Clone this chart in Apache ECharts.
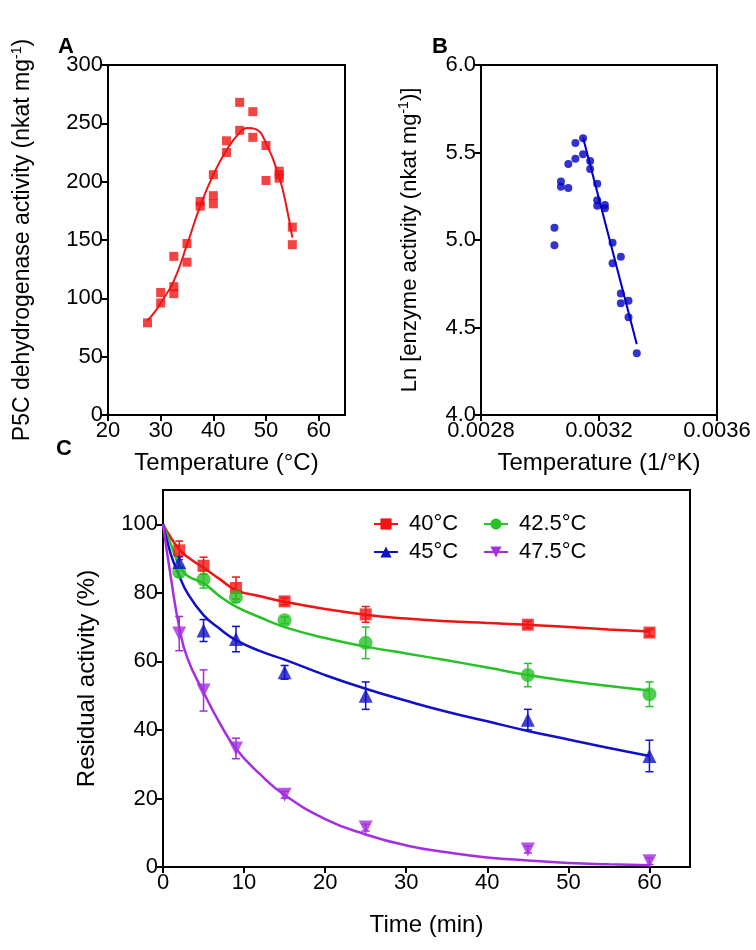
<!DOCTYPE html>
<html><head><meta charset="utf-8">
<script src="https://cdn.jsdelivr.net/npm/echarts@6/dist/echarts.min.js"></script>
<style>html,body{margin:0;padding:0;background:#fff}#c{width:756px;height:950px}</style>
</head><body><div id="c"></div>
<script>
// Panel A: P5C dehydrogenase activity vs temperature
const A_temp = [27.5,30,30,32.5,32.5,32.5,35,35,37.5,37.5,40,40,40,42.5,42.5,45,45,47.5,47.5,50,50,52.5,52.5,52.5,55,55];
const A_act  = [79,105,96,110,104,136,147,131,183,179,206,188,181,225,235,268,244,260,238,231,201,209,203,206,161,146];
const A_fitT = [27.5,29,30,32.5,35,37.5,40,42.5,45,46.5,48,50,52.5,54,55];
const A_fitV = [81,89,96,115,146,179,206,227,242,246,245,233,204,176,152];
const A_xTicks = [20,30,40,50,60];
const A_yTicks = [0,50,100,150,200,250,300];
// Panel B: Arrhenius plot
const B_invT = [0.003049,0.003049,0.003071,0.003071,0.003096,0.003096,0.00312,0.00312,0.003146,0.003146,0.00317,0.00317,0.003194,0.003194,0.003194,0.00322,0.00322,0.003246,0.003246,0.003274,0.003274,0.003274,0.0033,0.0033,0.003328];
const B_ln   = [5.07,4.97,5.335,5.305,5.434,5.297,5.554,5.465,5.581,5.49,5.451,5.406,5.322,5.227,5.196,5.2,5.181,4.985,4.867,4.905,4.695,4.638,4.653,4.558,4.353];
const B_lineX = [0.003146,0.003328];
const B_lineY = [5.585,4.405];
const B_xTicks = [0.0028,0.0032,0.0036];
const B_yTicks = [4.0,4.5,5.0,5.5,6.0];
// Panel C: residual activity vs time
const C_time = [2,5,9,15,25,45,60];
const C_40   = [92.4,87.9,81.4,77.5,73.7,70.7,68.4];
const C_40e  = [2.7,2.5,3.2,1,2.3,1,1];
const C_425  = [86.1,83.9,78.8,72,65.4,56,50.4];
const C_425e = [1.5,2.5,1.5,1,4.6,3.4,3.6];
const C_45   = [89,69,66.5,56.8,50,43,32.4];
const C_45e  = [1.5,3.2,3.7,2,4,3,4.6];
const C_475  = [68.1,51.5,34.6,21.1,11.5,5.1,1.7];
const C_475e = [5,6,3,1,1,1,1];
const C_fitT = [0,1,2,3,5,7,9,12,15,20,25,30,35,40,45,50,55,60];
const C_fit40  = [100,96,92.7,90.5,87.3,84,80.8,79,77.4,75.3,73.6,72.5,71.7,71.2,70.7,70,69.3,68.7];
const C_fit425 = [100,94,88,85,82.8,79,76,72.8,70,66.8,64.3,62.3,60.3,58.2,56,54.3,52.8,51.5];
const C_fit45  = [100,91,85,80,73.5,69.5,66.2,63,60.5,56,52,48.5,45.3,42.5,39.7,37.2,34.7,32.4];
const C_fit475 = [100,84,70,61,51,42,34.5,27,21,14,9.5,6.3,4.3,2.8,1.9,1.2,0.8,0.5];
const C_names = ['40°C','42.5°C','45°C','47.5°C'];
const C_xTicks = [0,10,20,30,40,50,60];
const C_yTicks = [0,20,40,60,80,100];

const FONT = 'Liberation Sans, Arial, sans-serif';
const RED='#f01414', GREEN='#26c226', BLUE='#1010c8', PURPLE='#a52ee0', BBLUE='#0000c4';
const zip = (a,b)=>a.map((v,i)=>[v,b[i]]);
function ax(o, ticks, fmt){
  const base = {
    axisLine:{show:true,onZero:false,lineStyle:{color:'#000',width:2}},
    axisTick:{show:true,length:6,customValues:ticks,lineStyle:{color:'#000',width:2}},
    splitLine:{show:false},
    axisLabel:{color:'#000',fontSize:22,fontFamily:FONT,margin:5,customValues:ticks},
    nameLocation:'middle',
    nameTextStyle:{color:'#000',fontSize:24,fontFamily:FONT}
  };
  if (fmt) base.axisLabel.formatter = fmt;
  return Object.assign(base, o);
}
function supName(pre, post, fs){
  return {
    name:'{t|'+pre+'}{s|-1}{t|'+post+'}',
    nameTextStyle:{color:'#000',fontFamily:FONT,rich:{
      t:{fontSize:fs,fontFamily:FONT,color:'#000',lineHeight:26},
      s:{fontSize:14,fontFamily:FONT,color:'#000',verticalAlign:'top',lineHeight:26,padding:[0,0,9,0]}
    }}
  };
}
function errSeries(name, xs, ys, es, color, gi){
  return {
    type:'custom', name:name, xAxisIndex:gi, yAxisIndex:gi, z:1, silent:true,
    data: xs.map((x,i)=>[x, ys[i], es[i]]),
    renderItem:function(params, api){
      const x=api.value(0), y=api.value(1), e=api.value(2);
      const p1=api.coord([x,y+e]), p2=api.coord([x,y-e]);
      const w=4;
      const st={stroke:color,lineWidth:1.5};
      return {type:'group',children:[
        {type:'line',shape:{x1:p1[0],y1:p1[1],x2:p2[0],y2:p2[1]},style:st},
        {type:'line',shape:{x1:p1[0]-w,y1:p1[1],x2:p1[0]+w,y2:p1[1]},style:st},
        {type:'line',shape:{x1:p2[0]-w,y1:p2[1],x2:p2[0]+w,y2:p2[1]},style:st}
      ]};
    }
  };
}
const chart = echarts.init(document.getElementById('c'), null, {renderer:'canvas'});
const gridStyle = {show:true, borderColor:'#000', borderWidth:2, backgroundColor:'#fff'};
const legendText = {fontSize:22,fontFamily:FONT,color:'#000',padding:[0,0,0,6]};
const option = {
  animation:false,
  backgroundColor:'#fff',
  textStyle:{fontFamily:FONT},
  grid:[
    Object.assign({left:108, top:65, width:237, height:350}, gridStyle),
    Object.assign({left:481, top:65, width:236, height:350}, gridStyle),
    Object.assign({left:163, top:490, width:527, height:377}, gridStyle)
  ],
  xAxis:[
    ax({gridIndex:0, type:'value', min:20, max:65, name:'Temperature (°C)', nameGap:36}, A_xTicks),
    ax({gridIndex:1, type:'value', min:0.0028, max:0.0036, name:'Temperature (1/°K)', nameGap:36}, B_xTicks, v=>v.toFixed(4)),
    ax({gridIndex:2, type:'value', min:0, max:65, name:'Time (min)', nameGap:46}, C_xTicks)
  ],
  yAxis:[
    Object.assign(ax({gridIndex:0, type:'value', min:0, max:300, nameGap:72}, A_yTicks),
      supName('P5C dehydrogenase activity (nkat mg',')',23)),
    Object.assign(ax({gridIndex:1, type:'value', min:4, max:6, nameGap:58}, B_yTicks, v=>v.toFixed(1)),
      supName('Ln [enzyme activity (nkat mg',')]',22)),
    ax({gridIndex:2, type:'value', min:0, max:110, name:'Residual activity (%)', nameGap:64}, C_yTicks)
  ],
  legend:[
    {orient:'vertical', left:368, top:508, itemGap:6, itemWidth:24, itemHeight:14,
     textStyle:legendText, data:['40°C','45°C'], selectedMode:false},
    {orient:'vertical', left:478, top:508, itemGap:6, itemWidth:24, itemHeight:14,
     textStyle:legendText, data:['42.5°C','47.5°C'], selectedMode:false}
  ],
  graphic:[
    {type:'text', left:58, top:36, style:{text:'A', fontSize:22, fontWeight:'bold', fontFamily:FONT, fill:'#000'}},
    {type:'text', left:432, top:36, style:{text:'B', fontSize:22, fontWeight:'bold', fontFamily:FONT, fill:'#000'}},
    {type:'text', left:56, top:438, style:{text:'C', fontSize:22, fontWeight:'bold', fontFamily:FONT, fill:'#000'}}
  ],
  series:[
    {type:'line', xAxisIndex:0, yAxisIndex:0, data:zip(A_fitT,A_fitV), smooth:true, showSymbol:false, lineStyle:{color:RED,width:2}, silent:true},
    {type:'scatter', xAxisIndex:0, yAxisIndex:0, data:zip(A_temp,A_act), symbol:'rect', symbolSize:9, itemStyle:{color:RED}},
    {type:'line', xAxisIndex:1, yAxisIndex:1, data:zip(B_lineX,B_lineY), showSymbol:false, lineStyle:{color:BBLUE,width:2}, silent:true},
    {type:'scatter', xAxisIndex:1, yAxisIndex:1, data:zip(B_invT,B_ln), symbol:'circle', symbolSize:8, itemStyle:{color:BBLUE}},
    errSeries('e40', C_time, C_40, C_40e, RED, 2),
    errSeries('e425', C_time, C_425, C_425e, GREEN, 2),
    errSeries('e45', C_time, C_45, C_45e, BLUE, 2),
    errSeries('e475', C_time, C_475, C_475e, PURPLE, 2),
    {type:'line', name:C_names[0], xAxisIndex:2, yAxisIndex:2, data:zip(C_fitT,C_fit40), smooth:true, showSymbol:false, symbol:'rect', symbolSize:12, itemStyle:{color:RED}, lineStyle:{color:RED,width:2.5}, silent:true},
    {type:'line', name:C_names[1], xAxisIndex:2, yAxisIndex:2, data:zip(C_fitT,C_fit425), smooth:true, showSymbol:false, symbol:'circle', symbolSize:13, itemStyle:{color:GREEN}, lineStyle:{color:GREEN,width:2.5}, silent:true},
    {type:'line', name:C_names[2], xAxisIndex:2, yAxisIndex:2, data:zip(C_fitT,C_fit45), smooth:true, showSymbol:false, symbol:'triangle', symbolSize:13, itemStyle:{color:BLUE}, lineStyle:{color:BLUE,width:2.5}, silent:true},
    {type:'line', name:C_names[3], xAxisIndex:2, yAxisIndex:2, data:zip(C_fitT,C_fit475), smooth:true, showSymbol:false, symbol:'path://M0,0 L10,0 L5,9 Z', symbolSize:13, itemStyle:{color:PURPLE}, lineStyle:{color:PURPLE,width:2.5}, silent:true},
    {type:'scatter', xAxisIndex:2, yAxisIndex:2, data:zip(C_time,C_40), symbol:'rect', symbolSize:12, itemStyle:{color:RED}, z:5},
    {type:'scatter', xAxisIndex:2, yAxisIndex:2, data:zip(C_time,C_425), symbol:'circle', symbolSize:14, itemStyle:{color:GREEN}, z:5},
    {type:'scatter', xAxisIndex:2, yAxisIndex:2, data:zip(C_time,C_45), symbol:'triangle', symbolSize:14, itemStyle:{color:BLUE}, z:5},
    {type:'scatter', xAxisIndex:2, yAxisIndex:2, data:zip(C_time,C_475), symbol:'path://M0,0 L10,0 L5,9 Z', symbolSize:14, itemStyle:{color:PURPLE}, z:5}
  ]
};
chart.setOption(option);
</script></body></html>
